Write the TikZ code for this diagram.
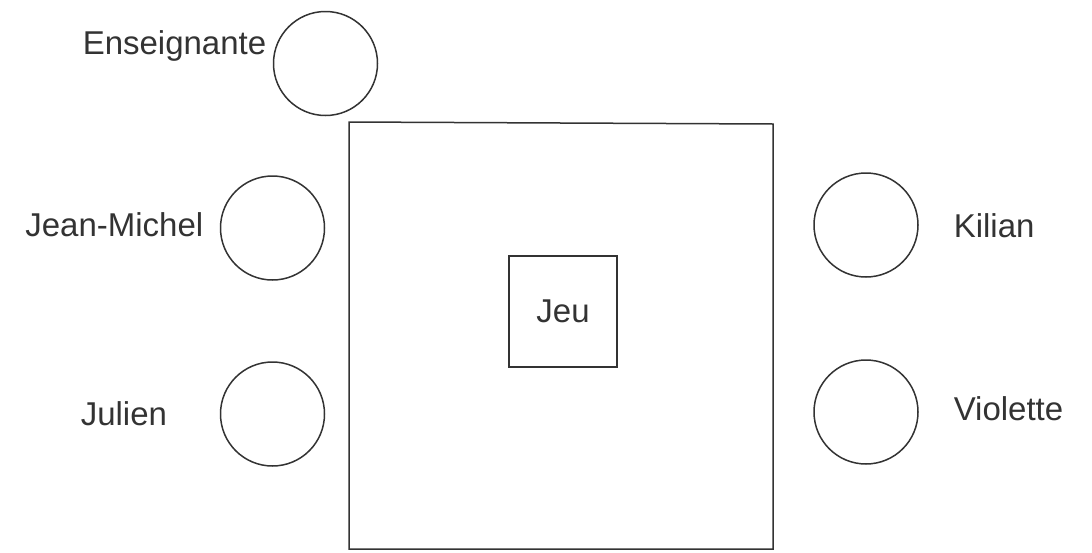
\documentclass[tikz,border=0pt]{standalone}
\usepackage{fontspec}
\setmainfont{Liberation Sans}
\tikzset{every picture/.style={line width=1.5pt}}
\tikzset{
  seat/.style={draw=black!80, circle, minimum size=104, inner sep=0pt},
  pupiltext/.style={text=black!80, inner sep=0pt, font=\fontsize{33}{40}\selectfont},
}

\begin{document}
\begin{tikzpicture}[x=1pt,y=1pt,yscale=-1,xscale=1]
\useasboundingbox (0,0) rectangle (1092,552);

%Shape: Table
\draw [black!80] (349,122) -- (773,124) -- (773,549) -- (349,549) -- cycle ;
%Shape: Jeu
\node (jeu) [draw=black!80, minimum width=108, minimum height=111, inner sep=0pt, pupiltext] at (563,311.5) {Jeu};

%Shape: Circles
\node (c_ens) [seat] at (325.5,63.5) {};
\node (c_jm) [seat] at (272.5,228) {};
\node (c_jul) [seat] at (272.5,414) {};
\node (c_kil) [seat] at (866,225) {};
\node (c_vio) [seat] at (866,412) {};

% Text Node
\node (t_ens) [pupiltext, anchor=base east] at (267,54) {Enseignante};
% Text Node
\node (t_jm) [pupiltext, anchor=base east] at (204,236) {Jean-Michel};
% Text Node
\node (t_jul) [pupiltext, anchor=base west] at (80,425) {Julien};
% Text Node
\node (t_kil) [pupiltext, anchor=base west] at (953,237) {Kilian};
% Text Node
\node (t_vio) [pupiltext, anchor=base west] at (953,420) {Violette};

\end{tikzpicture}
\end{document}
